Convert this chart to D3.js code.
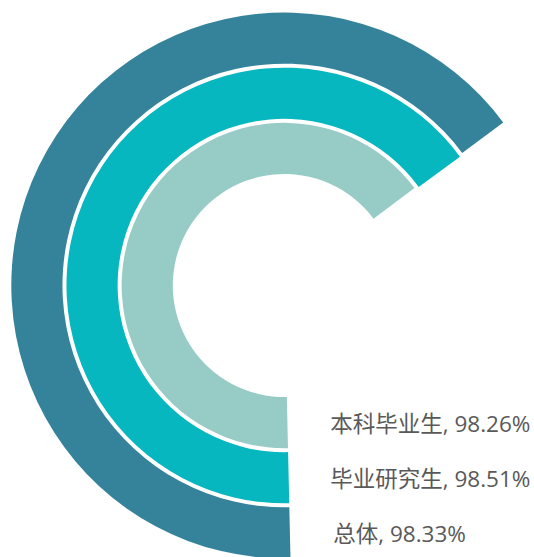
<!DOCTYPE html>
<html>
<head>
<meta charset="utf-8">
<script src="https://cdn.jsdelivr.net/npm/d3@7"></script>
<style>
  html, body { margin: 0; padding: 0; background: #ffffff; }
  svg { display: block; }
</style>
</head>
<body>
<svg id="chart" width="534" height="557"></svg>
<script>
// Employment rate by group, drawn as concentric radial bars (inner to outer)
const categories = ["本科毕业生", "毕业研究生", "总体"];
const values = [98.26, 98.51, 98.33];
const colors = ["#97CBC6", "#06B7BF", "#34839B"];

const width = 534, height = 557;
const cx = 284.3, cy = 285.5;
const innerRadius = 111.5, outerRadius = 273;

const svg = d3.select("#chart");
const g = svg.append("g").attr("transform", `translate(${cx},${cy})`);

// Each category gets its own ring
const r = d3.scaleBand()
  .domain(categories)
  .range([innerRadius, outerRadius])
  .paddingInner(0.0725)
  .paddingOuter(0);

// Bars start at the bottom and sweep clockwise
const startAngle = Math.PI - 0.0227;
const sweep = 238.6 * Math.PI / 180;
const angle = d3.scaleLinear().domain([0, 100]).range([startAngle, startAngle + sweep]);

const color = d3.scaleOrdinal().domain(categories).range(colors);

const data = categories.map((c, i) => ({ category: c, value: values[i] }));

const arc = d3.arc()
  .innerRadius(d => r(d.category))
  .outerRadius(d => r(d.category) + r.bandwidth())
  .startAngle(angle(0))
  .endAngle(d => angle(d.value));

g.selectAll("path.bar")
  .data(data)
  .join("path")
  .attr("class", "bar")
  .attr("d", arc)
  .attr("fill", d => color(d.category));

// Labels sit beside the start of each ring
g.selectAll("text.label")
  .data(data)
  .join("text")
  .attr("class", "label")
  .attr("x", (d, i) => i === 2 ? 49 : 46)
  .attr("y", d => r(d.category) + r.bandwidth() / 2 + 9.5)
  .attr("fill", "#595959")
  .style("font-family", "'Open Sans', 'Noto Sans CJK SC', sans-serif")
  .style("font-size", "22.5px")
  .text(d => `${d.category}, ${d.value.toFixed(2)}%`);
</script>
</body>
</html>
